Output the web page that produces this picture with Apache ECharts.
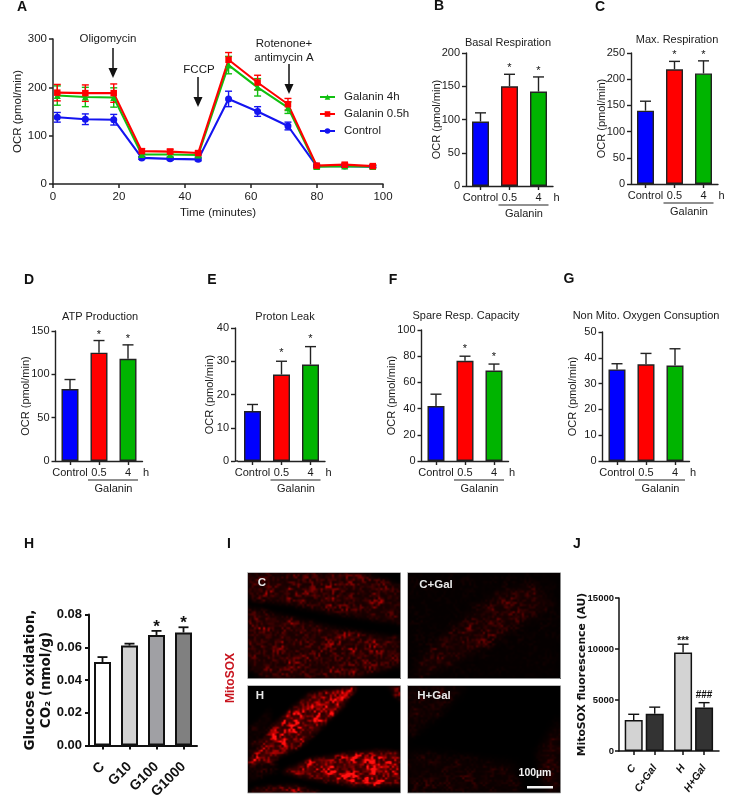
<!DOCTYPE html>
<html><head><meta charset="utf-8">
<style>html,body{margin:0;padding:0;background:#fff}#c{width:743px;height:812px}</style>
<script src="https://cdn.jsdelivr.net/npm/echarts@6/dist/echarts.min.js"></script>
</head><body><div id="c"></div>
<script>
// ---------- data ----------
const times = [1.3, 9.8, 18.4, 26.9, 35.5, 44, 53.2, 62, 71.2, 79.9, 88.4, 96.9];
const g4h = [183, 180, 179, 61, 61, 60, 246, 200, 158, 36, 37, 36];
const g4hErr = [20, 20, 20, 5, 5, 4, 18, 18, 12, 3, 3, 3];
const g05h = [189, 188, 188, 68, 67, 64, 257, 210, 165, 38, 40, 37];
const g05hErr = [17, 17, 19, 5, 5, 4, 15, 15, 12, 3, 3, 3];
const ctrl = [138, 134, 133, 54, 52, 51, 176, 150, 120, 37, 37, 36];
const ctrlErr = [10, 11, 11, 3, 3, 3, 16, 10, 8, 2, 2, 2];

const ocrCats = ['Control', '0.5', '4'];
const basalMeans = [97, 150, 142];      const basalUppers = [110, 168, 164];
const maxMeans = [140, 219, 211];       const maxUppers = [158, 234, 235];
const atpMeans = [83, 125, 118];        const atpUppers = [94, 139, 134];
const leakMeans = [15, 26, 29];         const leakUppers = [17, 30, 34.4];
const spareMeans = [42, 76.5, 69];      const spareUppers = [51, 80, 74];
const nonMitoMeans = [35.5, 37.5, 37];  const nonMitoUppers = [37.7, 41.7, 43.5];
const twoStars = ['', '*', '*'];
const noStars = ['', '', ''];

const glucoseCats = ['C', 'G10', 'G100', 'G1000'];
const glucoseMeans = [0.051, 0.061, 0.0675, 0.069];
const glucoseUppers = [0.054, 0.0622, 0.07, 0.0722];
const glucoseStars = ['', '', '*', '*'];

const mitoCats = ['C', 'C+Gal', 'H', 'H+Gal'];
const mitoMeans = [3050, 3640, 9650, 4260];
const mitoUppers = [3600, 4300, 10470, 4740];
const mitoMarks = ['', '', '***', '###'];

// ---------- styles ----------
const F = '"Liberation Sans", Arial, sans-serif';
const DV = '"DejaVu Sans", sans-serif';
const INK = '#222';
const BAR_COLORS = ['#0000ff', '#ff0000', '#00b400'];
const LINE_GREEN = '#10c010', LINE_RED = '#ff0000', LINE_BLUE = '#1414f0';

const panels = [
  {title:'Basal Respiration', tx:508, ty:43, means:basalMeans, up:basalUppers, stars:twoStars, left:466, top:53, h:133, max:200, step:50, gap:6},
  {title:'Max. Respiration', tx:677, ty:40, means:maxMeans, up:maxUppers, stars:twoStars, left:631, top:53, h:131, max:250, step:50, gap:6},
  {title:'ATP Production', tx:100, ty:316.5, means:atpMeans, up:atpUppers, stars:twoStars, left:55.5, top:331, h:130, max:150, step:50, gap:6},
  {title:'Proton Leak', tx:285, ty:317, means:leakMeans, up:leakUppers, stars:twoStars, left:238, top:328, h:133, max:40, step:10, gap:8, off:3, nameGap:20},
  {title:'Spare Resp. Capacity', tx:466, ty:316, means:spareMeans, up:spareUppers, stars:twoStars, left:421.5, top:330, h:131, max:100, step:20, gap:7},
  {title:'Non Mito. Oxygen Consuption', tx:646, ty:316, means:nonMitoMeans, up:nonMitoUppers, stars:noStars, left:602.5, top:332, h:129, max:50, step:10, gap:7}
];
const BAND = 29;

function errItem(color, cap, lw) {
  return function (params, api) {
    const top = api.coord([api.value(0), api.value(1)]);
    const base = api.coord([api.value(0), api.value(2)]);
    const st = {stroke: color, lineWidth: lw, fill: 'none'};
    return {type:'group', children:[
      {type:'line', shape:{x1:top[0], y1:top[1], x2:base[0], y2:base[1]}, style:st},
      {type:'line', shape:{x1:top[0]-cap/2, y1:top[1], x2:top[0]+cap/2, y2:top[1]}, style:st}
    ]};
  };
}
function markItem(marks, font, gap) {
  return function (params, api) {
    const top = api.coord([api.value(0), api.value(1)]);
    const g = Array.isArray(gap) ? gap[params.dataIndex] : gap;
    return {type:'text', x:top[0], y:top[1]-g, style:{text:marks[params.dataIndex], fontFamily:font.family, fontSize:font.size, fontWeight:font.weight, fill:'#111', textAlign:'center', textVerticalAlign:'middle'}};
  };
}

const grids = [], xAxes = [], yAxes = [], series = [], gfx = [];
function axisCommon(lw, color) {
  return {axisLine:{show:true, onZero:false, lineStyle:{color:color, width:lw}},
          axisTick:{show:true, length:4, lineStyle:{color:color, width:lw}},
          splitLine:{show:false}, nameMoveOverlap:false};
}
function text(t, x, y, o) {
  o = o || {};
  gfx.push({type:'text', x:x, y:y, rotation:o.rot||0, z:50, silent:true,
    style:{text:t, fontFamily:o.family||F, fontSize:o.size||11, fontWeight:o.weight||'normal', fill:o.fill||'#1a1a1a', textAlign:'center', textVerticalAlign:'middle', lineHeight:o.lh}});
}
function seg(x1, y1, x2, y2, w, c) {
  gfx.push({type:'line', z:40, silent:true, shape:{x1:x1,y1:y1,x2:x2,y2:y2}, style:{stroke:c||INK, lineWidth:w||1.3}});
}

// ---------- panel A ----------
grids.push({left:53, top:39, width:330, height:145});
xAxes.push(Object.assign(axisCommon(1.5, INK), {type:'value', gridIndex:0, min:0, max:100, interval:20,
  name:'Time (minutes)', nameLocation:'middle', nameGap:23, nameTextStyle:{fontFamily:F, fontSize:11.5, color:'#1a1a1a'},
  axisLabel:{fontFamily:F, fontSize:11.5, color:'#1a1a1a', margin:7}}));
yAxes.push(Object.assign(axisCommon(1.5, INK), {type:'value', gridIndex:0, min:0, max:300, interval:100,
  name:'OCR (pmol/min)', nameLocation:'middle', nameRotate:90, nameGap:29, nameTextStyle:{fontFamily:F, fontSize:11.5, color:'#1a1a1a'},
  axisLabel:{fontFamily:F, fontSize:11.5, color:'#1a1a1a', margin:6}}));
[['Control', ctrl, ctrlErr, LINE_BLUE, 'circle', 7],
 ['Galanin 4h', g4h, g4hErr, LINE_GREEN, 'triangle', 7],
 ['Galanin 0.5h', g05h, g05hErr, LINE_RED, 'rect', 6.5]].forEach(function (s) {
  series.push({type:'custom', name:s[0]+' error', xAxisIndex:0, yAxisIndex:0, silent:true, z:2,
    data:times.map(function (t,i){return [t, s[1][i]+s[2][i], s[1][i]-s[2][i]];}),
    encode:{x:0, y:[1,2]},
    renderItem:function (params, api) {
      const a = api.coord([api.value(0), api.value(1)]), b = api.coord([api.value(0), api.value(2)]);
      const st = {stroke:s[3], lineWidth:1.4, fill:'none'}, c = 3.5;
      return {type:'group', children:[
        {type:'line', shape:{x1:a[0],y1:a[1],x2:b[0],y2:b[1]}, style:st},
        {type:'line', shape:{x1:a[0]-c,y1:a[1],x2:a[0]+c,y2:a[1]}, style:st},
        {type:'line', shape:{x1:b[0]-c,y1:b[1],x2:b[0]+c,y2:b[1]}, style:st}]};
    }});
  series.push({type:'line', name:s[0], xAxisIndex:0, yAxisIndex:0, symbol:s[4], symbolSize:s[5], showSymbol:true, z:3,
    data:times.map(function (t,i){return [t, s[1][i]];}),
    lineStyle:{color:s[3], width:2.1}, itemStyle:{color:s[3]}, animation:false});
});
// arrows in panel A
function arrow(x, y1, y2) {
  seg(x, y1, x, y2-6, 1.5, '#111');
  gfx.push({type:'polygon', z:41, silent:true, shape:{points:[[x-4.5,y2-10],[x+4.5,y2-10],[x,y2]]}, style:{fill:'#111'}});
}
text('Oligomycin', 108, 38.5, {size:11.5});
arrow(113, 48, 78);
text('FCCP', 199, 69.5, {size:11.5});
arrow(198, 77, 107);
text('Rotenone+', 284, 43.5, {size:11.5});
text('antimycin A', 284, 57.5, {size:11.5});
arrow(289, 64, 94);

// ---------- panels B-G ----------
panels.forEach(function (p) {
  const gi = grids.length;
  grids.push({left:p.left, top:p.top, width:BAND*3, height:p.h});
  xAxes.push(Object.assign(axisCommon(1.4, INK), {type:'category', gridIndex:gi, data:ocrCats,
    axisLabel:{fontFamily:F, fontSize:11, color:'#1a1a1a', margin:6, interval:0}}));
  xAxes[gi].axisTick.alignWithLabel = true;
  yAxes.push(Object.assign(axisCommon(1.4, INK), {type:'value', gridIndex:gi, min:0, max:p.max, interval:p.step, offset:p.off||0,
    name:'OCR (pmol/min)', nameLocation:'middle', nameRotate:90, nameGap:p.nameGap||24, nameTextStyle:{fontFamily:F, fontSize:11, color:'#1a1a1a'},
    axisLabel:{fontFamily:F, fontSize:11, color:'#1a1a1a', margin:6}}));
  series.push({type:'bar', xAxisIndex:gi, yAxisIndex:gi, barWidth:17, silent:true, animation:false,
    data:p.means.map(function (v,i){return {value:v, itemStyle:{color:BAR_COLORS[i], borderColor:INK, borderWidth:1.4}};})});
  series.push({type:'custom', xAxisIndex:gi, yAxisIndex:gi, silent:true, z:3,
    data:p.up.map(function (v,i){return [i, v, p.means[i]];}), encode:{x:0, y:[1,2]},
    renderItem:errItem(INK, 11, 1.4)});
  series.push({type:'custom', xAxisIndex:gi, yAxisIndex:gi, silent:true, z:4,
    data:p.up.map(function (v,i){return [i, v];}), encode:{x:0, y:1},
    renderItem:markItem(p.stars, {family:F, size:11, weight:'normal'}, p.gap)});
  text(p.title, p.tx, p.ty, {size:11});
  const b = p.top + p.h, red = p.left + BAND*1.5, green = p.left + BAND*2.5;
  text('h', p.left + BAND*3 + 3.5, b + 11.5, {size:11});
  seg(red-11, b+19, green+10, b+19, 1.2);
  text('Galanin', (red+green)/2, b+28, {size:11});
  if (p.off) seg(p.left-p.off, b, p.left, b, 1.4);
});

// ---------- panel H ----------
(function () {
  const gi = grids.length;
  grids.push({left:89, top:614.5, width:108, height:131});
  xAxes.push(Object.assign(axisCommon(2, '#111'), {type:'category', gridIndex:gi, data:glucoseCats,
    axisLabel:{fontFamily:F, fontSize:14, fontWeight:'bold', color:'#111', rotate:45, margin:19, interval:0}}));
  xAxes[gi].axisTick.alignWithLabel = true;
  yAxes.push(Object.assign(axisCommon(2, '#111'), {type:'value', gridIndex:gi, min:0, max:0.08, interval:0.02,
    name:'Glucose oxidation,\nCO\u2082 (nmol/g)', nameLocation:'middle', nameRotate:90, nameGap:35,
    nameTextStyle:{fontFamily:DV, fontSize:13.5, fontWeight:'bold', color:'#111', lineHeight:16},
    axisLabel:{fontFamily:F, fontSize:13, fontWeight:'bold', color:'#111', margin:7, formatter:function (v){return v.toFixed(2);}}}));
  const greys = ['#ffffff', '#d3d3d3', '#a0a0a4', '#808080'];
  series.push({type:'bar', xAxisIndex:gi, yAxisIndex:gi, barWidth:17, silent:true, animation:false,
    data:glucoseMeans.map(function (v,i){return {value:v, itemStyle:{color:greys[i], borderColor:'#111', borderWidth:2}};})});
  series.push({type:'custom', xAxisIndex:gi, yAxisIndex:gi, silent:true, z:3,
    data:glucoseUppers.map(function (v,i){return [i, v, glucoseMeans[i]];}), encode:{x:0, y:[1,2]},
    renderItem:errItem('#111', 10, 1.8)});
  series.push({type:'custom', xAxisIndex:gi, yAxisIndex:gi, silent:true, z:4,
    data:glucoseUppers.map(function (v,i){return [i, v];}), encode:{x:0, y:1},
    renderItem:markItem(glucoseStars, {family:F, size:17, weight:'bold'}, 4)});
})();

// ---------- panel J ----------
(function () {
  const gi = grids.length;
  const GROUP_GAP = 0.35;
  const pos = mitoCats.map(function (c,i){return i + (i>1 ? GROUP_GAP : 0);});
  grids.push({left:619, top:598, width:100, height:153});
  xAxes.push(Object.assign(axisCommon(1.5, '#111'), {type:'value', gridIndex:gi, min:-0.7, max:4.06,
    axisLabel:{customValues:pos, fontFamily:F, fontSize:10.5, fontWeight:'bold', fontStyle:'italic', color:'#111', rotate:55, margin:15,
      formatter:function (v){return mitoCats[pos.indexOf(v)] || '';}}}));
  xAxes[gi].axisTick.customValues = pos;
  yAxes.push(Object.assign(axisCommon(1.5, '#111'), {type:'value', gridIndex:gi, min:0, max:15000, interval:5000,
    name:'MitoSOX fluorescence (AU)', nameLocation:'middle', nameRotate:90, nameGap:31,
    nameTextStyle:{fontFamily:DV, fontSize:10.8, fontWeight:'bold', color:'#111'},
    axisLabel:{fontFamily:F, fontSize:9.5, fontWeight:'bold', color:'#111', margin:5, formatter:function (v){return String(v);}}}));
  const greys = ['#d3d3d3', '#333333', '#d3d3d3', '#333333'];
  series.push({type:'bar', xAxisIndex:gi, yAxisIndex:gi, barWidth:18, silent:true, animation:false,
    data:mitoMeans.map(function (v,i){return {value:[pos[i], v], itemStyle:{color:greys[i], borderColor:'#111', borderWidth:1.5}};})});
  series.push({type:'custom', xAxisIndex:gi, yAxisIndex:gi, silent:true, z:3,
    data:mitoUppers.map(function (v,i){return [pos[i], v, mitoMeans[i]];}), encode:{x:0, y:[1,2]},
    renderItem:errItem('#111', 11, 1.4)});
  series.push({type:'custom', xAxisIndex:gi, yAxisIndex:gi, silent:true, z:4,
    data:mitoUppers.map(function (v,i){return [pos[i], v];}), encode:{x:0, y:1},
    renderItem:markItem(mitoMarks, {family:F, size:10, weight:'bold'}, [0, 0, 3, 7])});
})();

// ---------- panel letters ----------
[['A',22,7],['B',439,6],['C',600,7],['D',29,280],['E',212,280],['F',393,280],['G',569,279],['H',29,544],['I',229,544],['J',577,544]]
  .forEach(function (l){ text(l[0], l[1], l[2], {size:14, weight:'bold', fill:'#111'}); });

// ---------- panel I: micrographs (illustrative texture, deterministic) ----------
function hash(x,y,s){const h=Math.sin(x*127.1+y*311.7+s*74.7)*43758.5453;return h-Math.floor(h);}
function vnoise(x,y,s){
  const xi=Math.floor(x),yi=Math.floor(y),fx=x-xi,fy=y-yi;
  const u=fx*fx*(3-2*fx),v=fy*fy*(3-2*fy);
  const a=hash(xi,yi,s),b=hash(xi+1,yi,s),c=hash(xi,yi+1,s),d=hash(xi+1,yi+1,s);
  return (a*(1-u)+b*u)*(1-v)+(c*(1-u)+d*u)*v;
}
function micrograph(w,h,polys,seed,blur){
  const m=document.createElement('canvas');m.width=w;m.height=h;
  const mc=m.getContext('2d',{willReadFrequently:true});
  mc.fillStyle='#000';mc.fillRect(0,0,w,h);
  mc.filter='blur('+blur+'px)';
  polys.forEach(function(p){
    const g=Math.round(p[0]*255);mc.fillStyle='rgb('+g+','+g+','+g+')';
    mc.beginPath();p[1].forEach(function(q,i){const x=q[0]*w,y=q[1]*h;i?mc.lineTo(x,y):mc.moveTo(x,y);});
    mc.closePath();mc.fill();
  });
  const md=mc.getImageData(0,0,w,h).data;
  const c=document.createElement('canvas');c.width=w;c.height=h;
  const x=c.getContext('2d');const im=x.createImageData(w,h);
  for(let j=0;j<h;j++)for(let i=0;i<w;i++){
    const k=(j*w+i)*4,mv=md[k]/255;
    const n1=vnoise(i/2.3,j/2.3,seed),n2=vnoise(i/7,j/7,seed+3);
    const f=0.3+(0.8+3*mv)*n1*n1*(0.25+1.5*n2*n2);
    const v=Math.min(255,mv*255*f);
    im.data[k]=v;im.data[k+1]=v>200?(v-200)*0.3:0;im.data[k+2]=v>200?(v-200)*0.3:0;im.data[k+3]=255;
  }
  x.putImageData(im,0,0);
  const out=document.createElement('canvas');out.width=w;out.height=h;
  const oc=out.getContext('2d');oc.filter='blur(0.6px)';oc.drawImage(c,0,0);
  return out;
}
const micro=[
 {x:247.5,y:572.5,w:153,h:106,label:'C',lx:262,ly:583,polys:[
   [0.3,[[0,0],[0.75,0],[1,0.12],[1,0.48],[0.6,0.4],[0.3,0.31],[0,0.25]]],
   [0.32,[[0,0.33],[0.3,0.43],[0.6,0.53],[1,0.62],[1,0.88],[0.7,1],[0.1,1],[0,0.88]]]],seed:1,blur:2.5},
 {x:407.5,y:572.5,w:153,h:106,label:'C+Gal',lx:436,ly:585,polys:[
   [0.06,[[0,0],[1,0],[1,1],[0,1]]],
   [0.24,[[0.08,0.82],[0.32,0.5],[0.58,0.2],[0.82,0.1],[0.95,0.3],[0.62,0.6],[0.32,0.85],[0.05,1]]]],seed:7,blur:4},
 {x:247.5,y:685.5,w:153,h:107.5,label:'H',lx:260,ly:696,polys:[
   [0.12,[[0,0.4],[0.15,0.2],[0.2,0.8],[0,0.9]]],
   [0.58,[[0,0.72],[0.18,0.35],[0.4,0.08],[0.72,0],[0.62,0.2],[0.36,0.55],[0.12,0.72]]],
   [0.62,[[0.22,0.8],[0.42,0.68],[0.65,0.63],[0.85,0.6],[1,0.62],[1,0.92],[0.7,0.93],[0.4,0.86]]],
   [0.5,[[0.92,0],[1,0],[1,0.15]]],
   [0.45,[[0.05,0.95],[0.3,0.92],[0.5,1],[0,1]]]],seed:13,blur:2},
 {x:407.5,y:685.5,w:153,h:107.5,label:'H+Gal',lx:434,ly:696,polys:[
   [0.15,[[0,0],[0.38,0],[0.25,0.22],[0,0.5]]],
   [0.22,[[0.85,0.62],[1,0.3],[1,1],[0.9,1]]],
   [0.14,[[0,0.6],[0.7,0.72],[0.75,1],[0,1]]]],seed:21,blur:4}
];
micro.forEach(function(m){
  gfx.push({type:'image', z:10, silent:true, style:{image:micrograph(m.w,m.h,m.polys,m.seed,m.blur), x:m.x, y:m.y, width:m.w, height:m.h}});
  gfx.push({type:'rect', z:11, silent:true, shape:{x:m.x,y:m.y,width:m.w,height:m.h}, style:{fill:'none', stroke:'#aaa', lineWidth:0.8}});
  text(m.label, m.lx, m.ly, {size:11.5, weight:'bold', fill:'#e8e8e8'});
});
text('100\u00b5m', 535, 773, {size:10.5, weight:'bold', fill:'#f0f0f0'});
gfx.push({type:'rect', z:20, silent:true, shape:{x:527,y:786,width:26,height:2.5}, style:{fill:'#f4f4f4'}});
text('MitoSOX', 231, 678, {size:12, weight:'bold', fill:'#c8141e', rot:Math.PI/2});

// ---------- chart ----------
const chart = echarts.init(document.getElementById('c'), null, {renderer:'canvas', width:743, height:812});
chart.setOption({
  animation:false, backgroundColor:'#fff',
  grid:grids, xAxis:xAxes, yAxis:yAxes, series:series,
  legend:{data:['Galanin 4h','Galanin 0.5h','Control'], orient:'vertical', left:319, top:91, padding:0, itemWidth:15, itemHeight:7, itemGap:5,
    selectedMode:false, textStyle:{fontFamily:F, fontSize:11.5, color:'#1a1a1a', padding:[0,0,0,4]}},
  graphic:{elements:gfx}
});
</script></body></html>
